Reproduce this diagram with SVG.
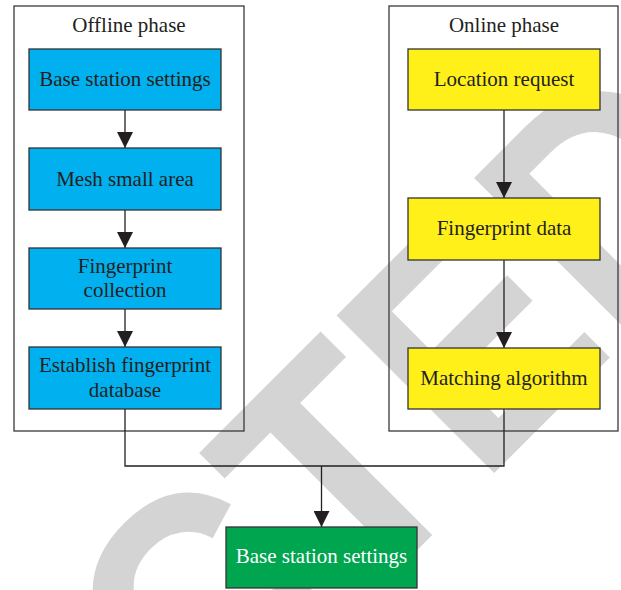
<svg xmlns="http://www.w3.org/2000/svg" width="621" height="590" viewBox="0 0 621 590">
<defs>
<style>
.wm{font-family:"Liberation Sans",Arial,sans-serif;font-weight:bold;font-size:324px;fill:#d4d4d4}
.frame{fill:none;stroke:#3a3a3a;stroke-width:1.3}
.box{stroke:#333;stroke-width:1.3}
.blue{fill:#00b0ef}
.yellow{fill:#fff01a}
.green{fill:#00a54f}
.t{font-family:"Liberation Serif","Times New Roman",serif;font-size:21px;fill:#231f20;text-anchor:middle}
.w{fill:#ffffff}
.ln{fill:none;stroke:#231f20;stroke-width:1.3}
</style>
<marker id="ah" markerWidth="16" markerHeight="16" viewBox="0 0 16 16" refX="16" refY="8" orient="auto" markerUnits="userSpaceOnUse">
<path d="M0,0 L16,8 L0,16 Z" fill="#231f20"/>
</marker>
</defs>
<rect width="621" height="590" fill="#ffffff"/>
<text class="wm" transform="rotate(-45) scale(0.9,1)" x="-437" y="684">CTED</text>
<g id="offline-phase">
<rect class="frame" x="14" y="6" width="230" height="425"/>
<text class="t" x="129" y="32">Offline phase</text>
</g>
<g id="online-phase">
<rect class="frame" x="389" y="6" width="229" height="425"/>
<text class="t" x="504" y="32">Online phase</text>
</g>
<g id="connectors">
<line class="ln" x1="125" y1="110" x2="125" y2="148" marker-end="url(#ah)"/>
<line class="ln" x1="125" y1="210" x2="125" y2="248" marker-end="url(#ah)"/>
<line class="ln" x1="125" y1="309" x2="125" y2="347" marker-end="url(#ah)"/>
<line class="ln" x1="504" y1="110" x2="504" y2="198" marker-end="url(#ah)"/>
<line class="ln" x1="504" y1="260" x2="504" y2="348" marker-end="url(#ah)"/>
<polyline class="ln" points="125,409 125,466 504,466 504,409"/>
<line class="ln" x1="321.5" y1="466" x2="321.5" y2="527" marker-end="url(#ah)"/>
</g>
<g id="base-station-settings">
<rect class="box blue" x="29" y="49" width="192" height="61"/>
<text class="t" x="125" y="86">Base station settings</text>
</g>
<g id="mesh-small-area">
<rect class="box blue" x="29" y="148" width="192" height="62"/>
<text class="t" x="125" y="186">Mesh small area</text>
</g>
<g id="fingerprint-collection">
<rect class="box blue" x="29" y="248" width="192" height="61"/>
<text class="t" x="125" y="273">Fingerprint</text>
<text class="t" x="125" y="297">collection</text>
</g>
<g id="establish-fingerprint-database">
<rect class="box blue" x="29" y="347" width="192" height="62"/>
<text class="t" x="125" y="372">Establish fingerprint</text>
<text class="t" x="125" y="397">database</text>
</g>
<g id="location-request">
<rect class="box yellow" x="408" y="49" width="192" height="61"/>
<text class="t" x="504" y="86">Location request</text>
</g>
<g id="fingerprint-data">
<rect class="box yellow" x="408" y="198" width="192" height="62"/>
<text class="t" x="504" y="235">Fingerprint data</text>
</g>
<g id="matching-algorithm">
<rect class="box yellow" x="408" y="348" width="192" height="61"/>
<text class="t" x="504" y="385">Matching algorithm</text>
</g>
<g id="base-station-settings-result">
<rect class="box green" x="226" y="527" width="191" height="61"/>
<text class="t w" x="321.5" y="563">Base station settings</text>
</g>
</svg>
